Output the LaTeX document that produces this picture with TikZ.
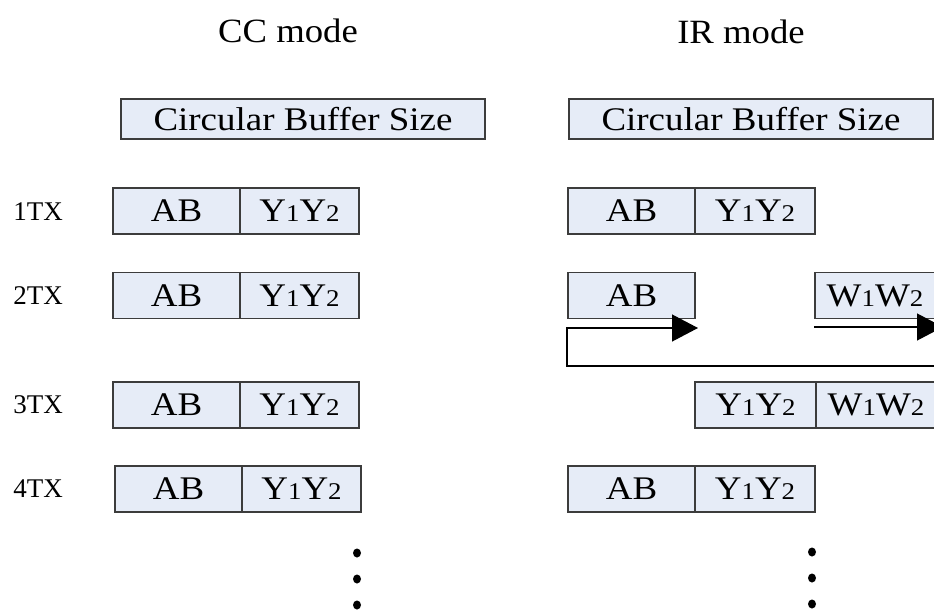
\documentclass[tikz,border=0pt]{standalone}
\usepackage{fontspec}
\usepackage{graphicx}
\setmainfont{Liberation Serif}
\usetikzlibrary{arrows.meta}
\definecolor{cellfill}{RGB}{230,236,247}
\definecolor{celldraw}{RGB}{60,60,60}
\newcommand{\bxt}[1]{\scalebox{1.12}[1]{\fontsize{33}{34}\selectfont #1}}
\newcommand{\ttlt}[1]{\scalebox{1.08}[1]{\fontsize{34}{36}\selectfont #1}}
\newcommand{\dg}[1]{{\fontsize{24}{24}\selectfont #1}}
\begin{document}
\begin{tikzpicture}[x=1pt,y=-1pt,
  cell/.style={draw=celldraw, fill=cellfill, line width=1.1pt, minimum height=46pt, inner sep=0pt},
  bufbox/.style={draw=celldraw, fill=cellfill, line width=1.1pt, minimum height=40pt, minimum width=364pt, inner sep=0pt},
  txlab/.style={font=\fontsize{27}{28}\selectfont, inner sep=0pt},
  conn/.style={line width=1.2pt, draw=black},
  bigtip/.style={-{Triangle[length=26pt,width=27pt]}}]
\useasboundingbox (0,0) rectangle (934,610);
\clip (0,0) rectangle (934,610);

% titles
\node[anchor=base, inner sep=0pt] (cct) at (288,43) {\ttlt{CC mode}};
\node[anchor=base, inner sep=0pt] (irt) at (741,44) {\ttlt{IR mode}};

% buffer size boxes
\node[bufbox] (ccbuf) at (303,119) {\bxt{Circular Buffer Size}};
\node[bufbox] (irbuf) at (751,119) {\bxt{Circular Buffer Size}};

% TX labels
\node[txlab] (tx1) at (38,212) {1TX};
\node[txlab] (tx2) at (38,296) {2TX};
\node[txlab] (tx3) at (38,405) {3TX};
\node[txlab] (tx4) at (38,489) {4TX};

% CC mode rows
\node[cell, minimum width=127pt] (cca1) at (176.5,211) {\bxt{AB}};
\node[cell, minimum width=119pt] (ccy1) at (299.5,211) {\bxt{Y\dg{1}Y\dg{2}}};
\node[cell, minimum width=127pt] (cca2) at (176.5,295.5) {\bxt{AB}};
\node[cell, minimum width=119pt] (ccy2) at (299.5,295.5) {\bxt{Y\dg{1}Y\dg{2}}};
\node[cell, minimum width=127pt] (cca3) at (176.5,405) {\bxt{AB}};
\node[cell, minimum width=119pt] (ccy3) at (299.5,405) {\bxt{Y\dg{1}Y\dg{2}}};
\node[cell, minimum width=127pt] (cca4) at (178.5,489) {\bxt{AB}};
\node[cell, minimum width=119pt] (ccy4) at (301.5,489) {\bxt{Y\dg{1}Y\dg{2}}};

% IR mode rows
\node[cell, minimum width=127pt] (ira1) at (631.5,211) {\bxt{AB}};
\node[cell, minimum width=120pt] (iry1) at (755,211) {\bxt{Y\dg{1}Y\dg{2}}};
\node[cell, minimum width=127pt] (ira2) at (631.5,295.5) {\bxt{AB}};
\node[cell, minimum width=120pt] (irw2) at (875,295.5) {\bxt{W\dg{1}W\dg{2}}};
\node[cell, minimum width=121pt] (iry3) at (755.5,405) {\bxt{Y\dg{1}Y\dg{2}}};
\node[cell, minimum width=120pt] (irw3) at (876,405) {\bxt{W\dg{1}W\dg{2}}};
\node[cell, minimum width=127pt] (ira4) at (631.5,489) {\bxt{AB}};
\node[cell, minimum width=120pt] (iry4) at (755,489) {\bxt{Y\dg{1}Y\dg{2}}};

% wrap-around arrows in IR 2TX
\coordinate (wrapR) at (940,366);
\coordinate (wrapL) at (567,366);
\coordinate (tipA) at (698,328);
\coordinate (startW) at (814,327);
\coordinate (tipW) at (943,327);
\draw[conn, bigtip] (wrapR) -- (wrapL) |- (tipA);
\draw[conn, bigtip] (startW) -- (tipW);

% continuation dots
\foreach \yy in {553,579,605} {
  \fill (357,\yy) ellipse (4pt and 4.5pt);
}
\foreach \yy in {552,578,604} {
  \fill (812,\yy) ellipse (4pt and 4.5pt);
}
\end{tikzpicture}
\end{document}
